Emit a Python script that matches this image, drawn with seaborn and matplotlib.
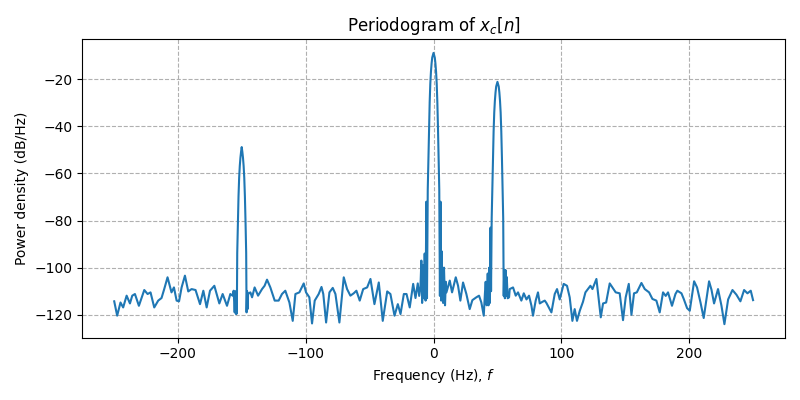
import matplotlib
matplotlib.use("Agg")
import matplotlib.pyplot as plt
import seaborn as sns
import pandas as pd

# Frequency (Hz) and power density (dB/Hz)
freq = [
    -249.7, -247.4, -244.8, -242.7, -240.0, -237.4, -235.6, -233.5, -230.4, -226.2,
    -223.6, -221.3, -218.4, -215.3, -212.7, -210.6, -208.0, -204.9, -203.0, -200.9,
    -199.0, -197.0, -194.4, -191.8, -189.2, -186.1, -182.6, -180.0, -177.4, -174.8,
    -171.4, -167.5, -164.9, -161.5, -158.9, -157.1, -156.3, -155.5, -154.9, -154.5,
    -154.1, -153.8,
    -153.5, -153.0, -152.5, -152.0, -151.5, -151.0, -150.5, -150.0, -149.5, -149.0,
    -148.5, -148.0, -147.5, -147.0, -146.5,
    -146.2, -145.8, -145.4, -145.0, -144.6,
    -143.2, -141.9, -139.9, -137.2, -134.1, -132.1, -130.2, -127.6, -124.2, -121.1,
    -118.5, -115.9, -112.7, -110.1, -108.0, -104.9, -101.5, -99.7, -97.1, -95.0,
    -92.9, -89.8, -87.6, -86.2, -84.0, -81.4, -78.8, -76.7, -73.6, -70.2,
    -67.6, -65.0, -62.4, -60.3, -57.7, -55.0, -51.9, -49.3, -46.2, -42.8,
    -39.7, -36.2, -33.7, -30.5, -27.9, -25.8, -23.2, -21.1, -18.6, -15.9,
    -14.1, -12.3, -11.2, -10.2, -9.5, -8.9, -8.2, -7.5, -6.9, -6.2,
    -5.6, -5.1,
    -4.5, -4.0, -3.5, -3.0, -2.5, -2.0, -1.5, -1.0, 0.0, 1.0, 1.5, 2.0, 2.5, 3.0,
    3.5, 4.0, 4.5,
    5.0, 5.5, 6.0, 6.3, 6.7, 7.0, 7.5, 8.2, 9.0, 9.6, 10.1,
    12.7, 14.5, 17.4, 19.2, 21.0, 23.1, 25.7, 28.3, 30.4, 33.5,
    35.6, 37.4, 39.3, 40.2, 40.8, 41.6, 42.4, 43.0, 43.6, 44.1,
    44.6, 45.0,
    45.5, 46.0, 46.5, 47.0, 47.5, 48.0, 48.5, 49.0, 50.0, 51.0, 51.5, 52.0, 52.5,
    53.0, 53.5, 54.0,
    54.5, 54.9, 55.3, 55.8, 56.3, 56.8, 57.3, 58.0, 59.1, 59.6,
    62.2, 64.3, 66.1, 68.7, 70.6, 72.7, 74.7, 76.6, 77.8, 79.9,
    81.7, 83.1, 85.2, 87.0, 88.3, 92.2, 94.8, 96.6, 98.7, 101.8,
    104.4, 106.5, 108.6, 110.4, 112.2, 114.4, 116.9, 118.8, 122.7, 124.3,
    127.4, 130.8, 132.6, 135.0, 137.8, 140.4, 142.5, 145.6, 148.2, 150.3,
    152.7, 154.8, 156.8, 159.0, 162.6, 165.2, 168.6, 171.2, 174.3, 176.9,
    179.5, 181.6, 183.4, 186.5, 189.2, 190.7, 193.9, 195.7, 198.3, 200.4,
    203.8, 206.1, 208.8, 211.3, 215.5, 217.4, 219.4, 222.5, 225.2, 227.5,
    230.4, 233.8, 236.9, 240.0, 242.9, 245.5, 248.1, 249.9,
]
power = [
    -114.3, -120.4, -114.8, -116.9, -111.9, -115.2, -111.9, -111.2, -116.2, -109.5,
    -111.2, -110.5, -116.9, -114.0, -112.9, -109.1, -104.1, -110.5, -108.4, -114.0,
    -114.3, -108.4, -103.4, -110.1, -109.1, -109.5, -115.5, -109.8, -116.9, -109.8,
    -107.7, -115.2, -111.2, -116.2, -111.2, -111.9, -109.8, -119.0, -110.0, -119.7,
    -112.0, -119.5,
    -93.8, -80.8, -69.8, -61.8, -56.8, -53.3, -50.8, -48.8, -50.8, -53.3,
    -56.8, -61.8, -69.8, -80.8, -93.8,
    -119.0, -110.0, -117.6, -111.0, -111.0,
    -110.5, -112.6, -108.4, -111.9, -109.1, -107.7, -105.1, -108.4, -114.0, -114.0,
    -111.2, -109.8, -114.8, -122.6, -111.2, -110.5, -106.7, -110.5, -112.6, -123.7,
    -114.0, -111.2, -108.2, -111.2, -123.3, -110.5, -108.6, -111.2, -123.3, -104.1,
    -109.1, -111.9, -110.9, -109.8, -114.0, -109.1, -108.4, -104.8, -115.5, -106.3,
    -122.6, -110.1, -111.2, -120.4, -115.5, -119.7, -111.2, -111.2, -116.9, -106.9,
    -112.9, -106.7, -112.0, -108.0, -97.0, -115.0, -99.0, -113.0, -94.0, -114.0,
    -72.0, -113.0,
    -66.8, -53.8, -40.8, -29.8, -21.8, -16.8, -13.3, -10.8, -8.8, -10.8, -13.3, -16.8, -21.8, -29.8,
    -40.8, -53.8, -66.8,
    -112.0, -72.0, -114.0, -93.0, -113.0, -101.0, -115.0, -100.0, -116.0, -106.0, -110.5,
    -105.5, -110.5, -104.1, -107.7, -114.0, -106.3, -111.2, -117.6, -113.8, -112.6,
    -111.9, -114.8, -120.4, -111.0, -106.0, -116.0, -102.5, -116.0, -100.0, -115.0,
    -83.0, -110.0,
    -79.0, -66.1, -53.1, -42.1, -34.1, -29.1, -25.6, -23.1, -21.1, -23.1, -25.6, -29.1, -34.1,
    -42.1, -53.1, -66.1,
    -79.0, -112.0, -101.0, -113.0, -101.0, -112.0, -104.0, -113.0, -112.6, -109.1,
    -108.4, -111.9, -110.5, -114.0, -110.9, -113.5, -111.9, -116.2, -120.4, -114.0,
    -110.5, -115.2, -114.5, -114.0, -115.0, -119.0, -111.2, -109.1, -113.5, -106.9,
    -107.7, -112.6, -122.6, -117.6, -122.6, -118.3, -114.5, -110.5, -107.7, -109.1,
    -104.8, -121.1, -115.2, -114.8, -106.7, -108.8, -110.5, -110.9, -122.3, -112.6,
    -106.9, -120.0, -110.9, -110.5, -106.5, -109.1, -110.5, -113.3, -114.0, -119.0,
    -110.5, -112.0, -110.5, -116.2, -111.2, -109.8, -110.9, -113.3, -117.2, -118.3,
    -105.8, -108.4, -114.8, -121.4, -105.8, -109.4, -115.2, -109.1, -116.2, -124.0,
    -113.5, -109.5, -111.5, -114.3, -109.5, -110.9, -109.8, -113.8,
]

df = pd.DataFrame({"f": freq, "P": power})

fig, ax = plt.subplots(figsize=(8, 4), dpi=100)
sns.lineplot(data=df, x="f", y="P", ax=ax, color="#1f77b4", linewidth=1.5,
             sort=False, estimator=None)
ax.grid(True, linestyle="--", color="#b0b0b0", linewidth=0.8)
ax.set_title("Periodogram of $x_c[n]$")
ax.set_xlabel("Frequency (Hz), $f$")
ax.set_ylabel("Power density (dB/Hz)")
ax.set_xticks([-200, -100, 0, 100, 200])
ax.set_yticks([-120, -100, -80, -60, -40, -20])
fig.tight_layout()
fig.savefig("out.png", dpi=100)
